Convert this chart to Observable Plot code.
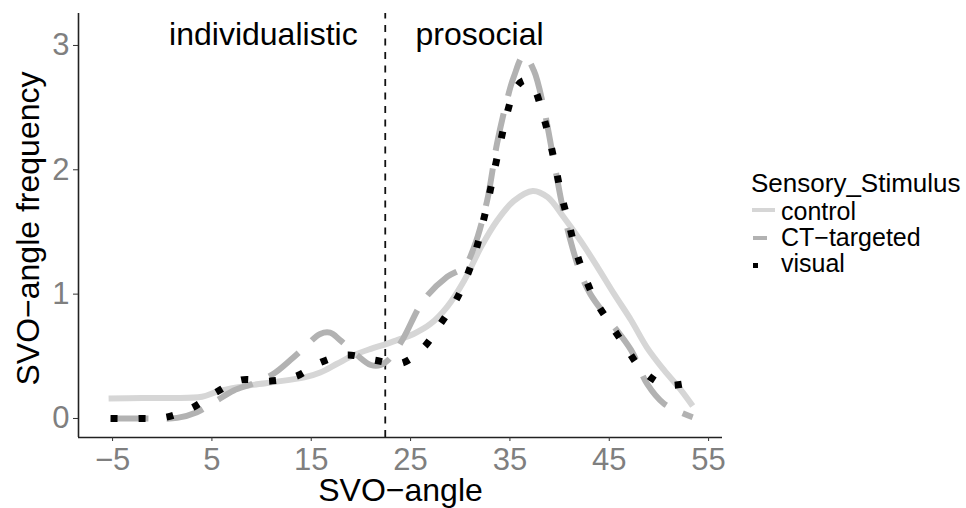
<!DOCTYPE html>
<html>
<head>
<meta charset="utf-8">
<script src="https://cdn.jsdelivr.net/npm/d3@7"></script>
<script src="https://cdn.jsdelivr.net/npm/@observablehq/plot@0.6"></script>
<style>
  html, body { margin: 0; padding: 0; background: #fff; }
  #wrap { position: relative; width: 966px; height: 508px; font-family: "Liberation Sans", Arial, sans-serif; }
  #wrap svg { position: absolute; left: 0; top: 0; }
  .lg { position: absolute; line-height: 1; white-space: nowrap; color: #000; }
  .key { position: absolute; }
</style>
</head>
<body>
<div id="wrap"></div>
<script>
// ---- data ----
const seriesNames = ["control", "CT\u2212targeted", "visual"];

const controlX = [-5.4, -2, 1, 4, 5.5, 7.5, 10.9, 14.3, 15.9, 17.6, 19.3, 21, 22.6, 24, 25.3, 27, 28.7, 30.4, 32.1, 33.7, 35.4, 37.3, 38.8, 40.4, 42.1, 43.8, 45.5, 47.2, 48.8, 50.5, 52.2, 53.4];
const controlY = [0.16, 0.165, 0.165, 0.175, 0.215, 0.25, 0.29, 0.33, 0.37, 0.44, 0.51, 0.56, 0.6, 0.64, 0.68, 0.76, 0.9, 1.11, 1.38, 1.59, 1.75, 1.83, 1.78, 1.62, 1.43, 1.22, 1.0, 0.79, 0.57, 0.39, 0.23, 0.1];

const ctX = [-5.2, -2, 1.5, 3.5, 5.5, 7.2, 9.1, 11.2, 12.9, 14.3, 15.9, 16.9, 17.9, 19.6, 21, 22, 23, 24.3, 26.3, 28.7, 30.4, 31.4, 32.7, 33.7, 34.7, 35.4, 36.4, 37.4, 38.4, 39.4, 40.3, 41.1, 42.1, 43.1, 44.8, 47.2, 48.8, 50.5, 53.4];
const ctY = [0.0, 0.0, 0.005, 0.05, 0.145, 0.225, 0.28, 0.36, 0.47, 0.57, 0.68, 0.69, 0.63, 0.51, 0.43, 0.43, 0.49, 0.65, 0.95, 1.14, 1.22, 1.38, 1.75, 2.21, 2.56, 2.75, 2.92, 2.8, 2.5, 2.08, 1.7, 1.43, 1.17, 1.0, 0.81, 0.55, 0.28, 0.12, 0.01];

const visualX = [-5.2, -2.4, 0.4, 3.1, 5.4, 7.95, 10.7, 13.5, 15.9, 18.6, 21.3, 24.1, 26.3, 28, 29.5, 30.7, 31.6, 32.3, 32.9, 33.5, 34.1, 34.7, 35.6, 36.5, 37.4, 38.3, 39, 39.6, 40.2, 40.9, 41.6, 42.5, 43.6, 45.1, 46.7, 48.3, 50.6, 53.2];
const visualY = [0.0, 0.0, 0.01, 0.09, 0.21, 0.31, 0.3, 0.34, 0.45, 0.51, 0.47, 0.445, 0.57, 0.76, 0.94, 1.15, 1.36, 1.58, 1.79, 2.02, 2.24, 2.45, 2.66, 2.72, 2.66, 2.45, 2.24, 2.02, 1.79, 1.58, 1.36, 1.15, 0.95, 0.76, 0.57, 0.39, 0.27, 0.29];

const xTicks = [-5, 5, 15, 25, 35, 45, 55];
const yTicks = [0, 1, 2, 3];
const xDomain = [-8.43, 56.4];
const yDomain = [-0.153, 3.257];

const cutoff = [22.45];
const leftLabel = ["individualistic"];
const leftLabelX = [19.67];
const rightLabel = ["prosocial"];
const rightLabelX = [25.5];
const labelY = 3;

const xTitle = "SVO\u2212angle";
const yTitle = "SVO\u2212angle frequency";
const legendTitle = "Sensory_Stimulus";

const colors = ["#d6d6d6", "#b2b2b2", "#000000"];

// ---- build tables ----
const toRows = (xs, ys) => xs.map((x, i) => ({x, y: ys[i]}));
const controlRows = toRows(controlX, controlY);
const ctRows = toRows(ctX, ctY);
const visualRows = toRows(visualX, visualY);
const leftRows = leftLabel.map((label, i) => ({label, x: leftLabelX[i], y: labelY}));
const rightRows = rightLabel.map((label, i) => ({label, x: rightLabelX[i], y: labelY}));

const fmt = d => d < 0 ? "\u2212" + Math.abs(d) : String(d);

const chart = Plot.plot({
  width: 966,
  height: 508,
  marginLeft: 78,
  marginRight: 244,
  marginTop: 13,
  marginBottom: 71,
  style: {fontFamily: "'Liberation Sans', Arial, sans-serif", background: "transparent", overflow: "visible"},
  x: {domain: xDomain},
  y: {domain: yDomain},
  marks: [
    Plot.ruleX(cutoff, {y1: yDomain[0], y2: yDomain[1], stroke: "#111", strokeWidth: 1.8, strokeDasharray: "7,6.5"}),
    Plot.line(controlRows, {x: "x", y: "y", stroke: colors[0], strokeWidth: 6, curve: "catmull-rom", strokeLinecap: "butt"}),
    Plot.line(ctRows, {x: "x", y: "y", stroke: colors[1], strokeWidth: 6, curve: "catmull-rom", strokeLinecap: "butt", strokeDasharray: "38,18"}),
    Plot.line(visualRows, {x: "x", y: "y", stroke: colors[2], strokeWidth: 7, curve: "catmull-rom", strokeLinecap: "butt", strokeLinejoin: "miter", strokeDasharray: "7,21"}),
    Plot.ruleY([yDomain[0]], {stroke: "#222", strokeWidth: 1.6}),
    Plot.ruleX([xDomain[0]], {stroke: "#222", strokeWidth: 1.6}),
    Plot.axisX(xTicks, {tickSize: 4, tickPadding: 6, fontSize: 31, fill: "#7f7f7f", stroke: "#333", tickFormat: fmt, label: null}),
    Plot.axisY(yTicks, {tickSize: 5, tickPadding: 4, fontSize: 31, fill: "#7f7f7f", stroke: "#333", tickFormat: fmt, label: null}),
    Plot.text(leftRows, {x: "x", y: "y", text: "label", textAnchor: "end", lineAnchor: "bottom", fontSize: 32, fill: "#000"}),
    Plot.text(rightRows, {x: "x", y: "y", text: "label", textAnchor: "start", lineAnchor: "bottom", fontSize: 32, fill: "#000"}),
    Plot.text([xTitle], {text: d => d, frameAnchor: "bottom", dy: 63, lineAnchor: "bottom", fontSize: 32, fill: "#000"}),
    Plot.text([yTitle], {text: d => d, frameAnchor: "left", dx: -50, dy: 3, rotate: -90, textAnchor: "middle", lineAnchor: "middle", fontSize: 32, fill: "#000"})
  ]
});

const wrap = document.getElementById("wrap");
wrap.appendChild(chart);

// ---- legend (HTML) ----
function addText(txt, left, top, size) {
  const el = document.createElement("div");
  el.className = "lg";
  el.style.left = left + "px";
  el.style.top = top + "px";
  el.style.fontSize = size + "px";
  el.textContent = txt;
  wrap.appendChild(el);
}
function addKey(left, top, w, h, color) {
  const el = document.createElement("div");
  el.className = "key";
  el.style.left = left + "px";
  el.style.top = top + "px";
  el.style.width = w + "px";
  el.style.height = h + "px";
  el.style.background = color;
  wrap.appendChild(el);
}
addText(legendTitle, 751, 170, 26);
const itemTops = [198.8, 224.8, 250.8];
seriesNames.forEach((name, i) => addText(name, 781, itemTops[i], 25));
addKey(752, 208, 23, 4, colors[0]);
addKey(753, 236, 14, 4, colors[1]);
addKey(753, 263, 4.5, 4.5, colors[2]);
</script>
</body>
</html>
